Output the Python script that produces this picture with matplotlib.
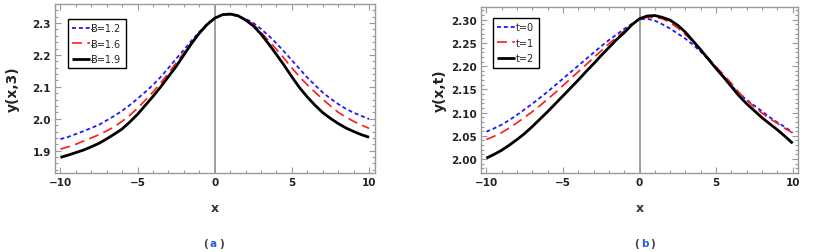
import matplotlib
matplotlib.use("Agg")
import matplotlib.pyplot as plt
from matplotlib.ticker import MultipleLocator

# ---------------- data ----------------
x_vals = [-10, -9.5, -9, -8.5, -8, -7.5, -7, -6.5, -6, -5.5, -5, -4.5, -4, -3.5, -3, -2.5,
          -2, -1.5, -1, -0.5, 0, 0.5, 1, 1.5, 2, 2.5, 3, 3.5, 4, 4.5, 5, 5.5, 6, 6.5,
          7, 7.5, 8, 8.5, 9, 9.5, 10]

# panel (a): y(x,3) for several B
a_labels = ["Ƀ=1.2", "Ƀ=1.6", "Ƀ=1.9"]
a_B12 = [1.936, 1.943, 1.952, 1.961, 1.971, 1.981, 1.995, 2.009, 2.025, 2.043, 2.063,
         2.084, 2.106, 2.131, 2.159, 2.188, 2.216, 2.245, 2.272, 2.297, 2.316, 2.326,
         2.327, 2.321, 2.313, 2.300, 2.281, 2.260, 2.236, 2.210, 2.183, 2.156, 2.129,
         2.105, 2.082, 2.063, 2.046, 2.031, 2.019, 2.009, 1.999]
a_B16 = [1.905, 1.912, 1.920, 1.930, 1.940, 1.950, 1.962, 1.975, 1.992, 2.011, 2.033,
         2.058, 2.084, 2.112, 2.143, 2.175, 2.206, 2.238, 2.270, 2.296, 2.316, 2.326,
         2.327, 2.322, 2.311, 2.296, 2.271, 2.244, 2.217, 2.189, 2.159, 2.131, 2.106,
         2.083, 2.061, 2.040, 2.020, 2.005, 1.992, 1.980, 1.970]
a_B19 = [1.879, 1.886, 1.894, 1.902, 1.912, 1.923, 1.937, 1.952, 1.968, 1.990, 2.014,
         2.042, 2.070, 2.100, 2.132, 2.164, 2.200, 2.236, 2.268, 2.295, 2.315, 2.326,
         2.328, 2.323, 2.309, 2.291, 2.265, 2.234, 2.201, 2.167, 2.131, 2.097, 2.068,
         2.042, 2.019, 2.001, 1.985, 1.971, 1.960, 1.950, 1.942]

# panel (b): y(x,t) for several t
b_labels = ["t=0", "t=1", "t=2"]
b_t0 = [2.059, 2.066, 2.074, 2.084, 2.095, 2.107, 2.119, 2.132, 2.145, 2.159, 2.173,
        2.187, 2.201, 2.215, 2.229, 2.243, 2.256, 2.268, 2.280, 2.291, 2.301, 2.302,
        2.298, 2.290, 2.281, 2.270, 2.259, 2.246, 2.231, 2.214, 2.197, 2.178, 2.158,
        2.142, 2.127, 2.115, 2.103, 2.090, 2.079, 2.069, 2.057]
b_t1 = [2.042, 2.049, 2.057, 2.067, 2.078, 2.090, 2.102, 2.115, 2.129, 2.143, 2.158,
        2.173, 2.188, 2.203, 2.218, 2.233, 2.248, 2.262, 2.276, 2.290, 2.302, 2.305,
        2.305, 2.302, 2.294, 2.282, 2.268, 2.253, 2.236, 2.217, 2.199, 2.181, 2.163,
        2.143, 2.127, 2.112, 2.099, 2.087, 2.077, 2.066, 2.056]
b_t2 = [2.002, 2.010, 2.019, 2.030, 2.042, 2.055, 2.070, 2.086, 2.102, 2.119, 2.136,
        2.153, 2.170, 2.188, 2.205, 2.223, 2.240, 2.257, 2.272, 2.289, 2.302, 2.308,
        2.309, 2.305, 2.299, 2.288, 2.273, 2.254, 2.235, 2.215, 2.195, 2.176, 2.156,
        2.136, 2.119, 2.104, 2.089, 2.076, 2.063, 2.049, 2.034]

x_ticks = [-10, -5, 0, 5, 10]
x_tick_labels = ["\u221210", "\u22125", "0", "5", "10"]
a_yticks = [1.9, 2.0, 2.1, 2.2, 2.3]
a_ytick_labels = ["1.9", "2.0", "2.1", "2.2", "2.3"]
b_yticks = [2.00, 2.05, 2.10, 2.15, 2.20, 2.25, 2.30]
b_ytick_labels = ["2.00", "2.05", "2.10", "2.15", "2.20", "2.25", "2.30"]

# ---------------- figure ----------------
W, H = 824, 253
fig = plt.figure(figsize=(W / 100, H / 100), dpi=100)

def px_axes(l, t, r, b):
    return fig.add_axes([l / W, 1 - b / H, (r - l) / W, (b - t) / H])

axA = px_axes(55, 5, 374.5, 174)
axB = px_axes(481, 8.3, 798, 174)

frame_col = "#9a9a9a"
tick_font = dict(family="DejaVu Sans", weight="bold", size=7.5)

styles = [
    dict(color="#1a1aff", lw=1.3, dashes=(2.2, 1.6)),
    dict(color="#ff1a1a", lw=1.2, dashes=(6.0, 3.2)),
    dict(color="black", lw=2.0, ls="-"),
]

def setup(ax, ylim, yticks, ylabels, ylab, ylabpad, yminor, legend_anchor, labels, series):
    ax.axvline(0, color="#999999", lw=1.3, zorder=1)
    for s, lab, st in zip(series, labels, styles):
        ax.plot(x_vals, s, label=lab, zorder=3, solid_capstyle="butt", **st)
    ax.set_xlim(-10.35, 10.35)
    ax.set_ylim(*ylim)
    ax.set_xticks(x_ticks)
    ax.set_xticklabels(x_tick_labels, fontdict=tick_font, color="#222222")
    ax.set_yticks(yticks)
    ax.set_yticklabels(ylabels, fontdict=tick_font, color="#222222")
    ax.xaxis.set_minor_locator(MultipleLocator(1))
    ax.yaxis.set_minor_locator(MultipleLocator(yminor))
    ax.tick_params(which="both", direction="in", top=True, right=True,
                   color=frame_col, width=0.8, pad=3)
    ax.tick_params(which="major", length=4)
    ax.tick_params(which="minor", length=2)
    for sp in ax.spines.values():
        sp.set_color(frame_col)
        sp.set_linewidth(1.0)
    ax.set_xlabel("x", fontsize=9, fontweight="bold", color="#333333", labelpad=10)
    ax.set_ylabel(ylab, fontsize=10, fontweight="bold", color="#222222", labelpad=ylabpad)
    leg = ax.legend(loc="upper left", bbox_to_anchor=legend_anchor, borderaxespad=0,
                    fontsize=7, handlelength=1.8, handletextpad=0.1, labelspacing=0.55,
                    borderpad=0.45, frameon=True, fancybox=False, framealpha=1)
    leg.get_frame().set_edgecolor("black")
    leg.get_frame().set_linewidth(1.0)
    for t in leg.get_texts():
        t.set_color("#222222")

setup(axA, (1.830, 2.3595), a_yticks, a_ytick_labels, "y(x,3)", 9, 0.02,
      (0.041, 0.911), a_labels, [a_B12, a_B16, a_B19])
setup(axB, (1.970, 2.3267), b_yticks, b_ytick_labels, "y(x,t)", 3, 0.01,
      (0.038, 0.935), b_labels, [b_t0, b_t1, b_t2])

def caption(x_left, letter):
    kw = dict(fontsize=7.5, fontweight="bold")
    t1 = fig.text(x_left / W, 1 - 247 / H, "(", color="#444444", ha="left",
                  va="baseline", **kw)
    a = plt.annotate(letter, xy=(1, 0), xycoords=t1, xytext=(1.5, 0),
                     textcoords="offset points", color="#2a5bd7",
                     ha="left", va="bottom", annotation_clip=False, **kw)
    plt.annotate(")", xy=(1, 0), xycoords=a, xytext=(1.5, 0),
                 textcoords="offset points", color="#444444",
                 ha="left", va="bottom", annotation_clip=False, **kw)

caption(203, "a")
caption(634, "b")

fig.savefig("out.png", dpi=100)
